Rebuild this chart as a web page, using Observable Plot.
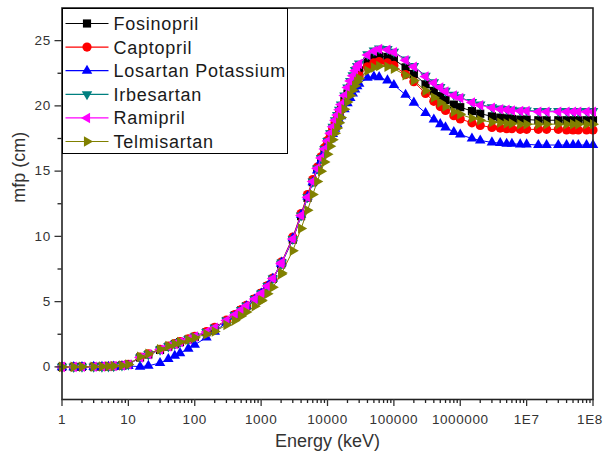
<!DOCTYPE html>
<html>
<head>
<meta charset="utf-8">
<script src="https://cdn.jsdelivr.net/npm/d3@7"></script>
<script src="https://cdn.jsdelivr.net/npm/@observablehq/plot@0.6"></script>
<style>
  body { margin: 0; background: #fff; }
  #wrap { position: relative; width: 604px; height: 461px; font-family: "Liberation Sans", Arial, sans-serif; }
  #wrap svg g[aria-label="x-axis tick label"] text { letter-spacing: 0.6px; }
  #wrap svg g[aria-label="y-axis tick label"] text { letter-spacing: 0.8px; }
  #legend { position: absolute; left: 61.5px; top: 7.5px; background: #fff; border: 1px solid #000; box-sizing: border-box; }
  #legend text { font-family: "Liberation Sans", Arial, sans-serif; font-size: 18px; letter-spacing: 0.75px; fill: #1a1a1a; }
</style>
</head>
<body>
<div id="wrap"></div>
<script>
// ---------- data ----------
const energies = [1,1.5,2,3,4,5,6,8,10,
  15,20,30,40,50,60,80,100,
  150,200,300,400,500,600,800,1000,
  1022,1250,1500,2000,2044,
  3000,4000,5000,6000,7000,8000,9000,10000,
  11000,12000,13000,14000,15000,16000,
  18000,20000,22000,24000,26000,28000,30000,
  40000,50000,60000,80000,100000,
  150000,200000,300000,400000,500000,600000,800000,1e6,
  1.5e6,2e6,3e6,4e6,5e6,6e6,8e6,1e7,
  1.5e7,2e7,3e7,4e7,5e7,6e7,8e7,1e8];

const seriesNames = ["Fosinopril","Captopril","Losartan Potassium","Irbesartan","Ramipril","Telmisartan"];

const fosinopril = [0.00,0.00,0.01,0.01,0.02,0.04,0.06,0.11,0.18,
  0.72,0.95,1.30,1.55,1.74,1.89,2.10,2.30,
  2.65,2.98,3.52,3.95,4.33,4.66,5.18,5.58,
  5.63,6.18,6.74,7.85,7.95,
  9.75,11.55,12.95,14.15,15.15,15.95,16.65,17.25,
  17.8,18.3,18.75,19.15,19.5,19.8,
  20.4,20.95,21.4,21.8,22.15,22.45,22.7,
  23.4,23.7,23.8,23.75,23.55,
  22.95,22.45,21.65,21.15,20.75,20.45,20.1,19.9,
  19.6,19.4,19.2,19.1,19.05,19.0,18.95,18.95,
  18.9,18.9,18.9,18.9,18.9,18.9,18.9,18.9];

const captopril = [0.00,0.00,0.01,0.01,0.02,0.04,0.06,0.12,0.20,
  0.75,1.00,1.35,1.60,1.78,1.93,2.14,2.34,
  2.70,3.03,3.58,4.00,4.38,4.72,5.22,5.62,
  5.67,6.22,6.80,7.95,8.05,
  9.95,11.75,13.2,14.35,15.3,16.1,16.8,17.35,
  17.85,18.3,18.7,19.05,19.4,19.7,
  20.25,20.7,21.1,21.5,21.8,22.05,22.3,
  23.0,23.3,23.4,23.3,23.1,
  22.4,21.85,20.95,20.35,19.95,19.65,19.25,19.0,
  18.7,18.5,18.35,18.3,18.25,18.25,18.2,18.2,
  18.2,18.2,18.2,18.15,18.15,18.15,18.15,18.15];

const losartan = [-0.02,-0.02,-0.01,0.00,0.00,0.01,0.02,0.04,0.07,
  0.02,0.08,0.30,0.60,0.85,1.05,1.40,1.70,
  2.25,2.70,3.40,3.88,4.30,4.65,5.15,5.57,
  5.62,6.17,6.75,7.90,8.00,
  9.85,11.65,13.05,14.15,15.05,15.8,16.45,17.0,
  17.45,17.85,18.25,18.6,18.9,19.2,
  19.75,20.2,20.6,20.95,21.25,21.5,21.7,
  22.15,22.25,22.2,21.95,21.6,
  20.85,20.25,19.45,18.95,18.6,18.35,18.0,17.8,
  17.5,17.35,17.2,17.15,17.1,17.1,17.05,17.05,
  17.0,17.0,17.0,17.0,17.0,17.0,17.0,17.0];

const irbesartan = [0.00,0.00,0.01,0.01,0.02,0.04,0.06,0.11,0.18,
  0.72,0.96,1.32,1.57,1.76,1.91,2.12,2.32,
  2.67,3.00,3.55,3.97,4.35,4.68,5.20,5.60,
  5.65,6.20,6.77,7.90,8.00,
  9.8,11.6,13.0,14.2,15.2,16.0,16.7,17.3,
  17.9,18.4,18.9,19.3,19.7,20.1,
  20.8,21.4,21.9,22.35,22.75,23.05,23.25,
  23.95,24.25,24.4,24.35,24.15,
  23.55,23.05,22.3,21.8,21.45,21.15,20.85,20.65,
  20.3,20.1,19.9,19.8,19.75,19.7,19.65,19.65,
  19.6,19.6,19.6,19.6,19.6,19.6,19.6,19.6];

const ramipril = [0.00,0.00,0.01,0.01,0.02,0.04,0.06,0.11,0.18,
  0.72,0.96,1.32,1.57,1.76,1.91,2.12,2.32,
  2.67,3.00,3.55,3.97,4.35,4.68,5.20,5.60,
  5.65,6.20,6.77,7.90,8.00,
  9.8,11.6,13.0,14.2,15.2,16.0,16.7,17.3,
  17.9,18.4,18.9,19.3,19.7,20.1,
  20.8,21.4,21.9,22.3,22.7,23.0,23.2,
  23.9,24.2,24.35,24.3,24.1,
  23.5,23.0,22.25,21.75,21.4,21.1,20.8,20.6,
  20.25,20.05,19.85,19.75,19.7,19.65,19.6,19.6,
  19.55,19.55,19.55,19.55,19.55,19.55,19.55,19.55];

const telmisartan = [0.00,0.00,0.01,0.01,0.02,0.04,0.06,0.11,0.18,
  0.78,1.00,1.35,1.60,1.76,1.90,2.08,2.24,
  2.50,2.72,3.20,3.55,3.90,4.20,4.65,5.05,
  5.10,5.60,6.10,7.10,7.20,
  8.9,10.6,12.0,13.2,14.2,15.0,15.7,16.3,
  16.9,17.4,17.9,18.3,18.7,19.1,
  19.75,20.3,20.8,21.2,21.55,21.85,22.1,
  22.7,22.95,23.05,23.0,22.85,
  22.35,21.95,21.15,20.65,20.25,19.95,19.55,19.35,
  19.05,18.9,18.75,18.7,18.65,18.65,18.6,18.6,
  18.6,18.6,18.6,18.6,18.6,18.6,18.6,18.6];

const seriesValues = [fosinopril, captopril, losartan, irbesartan, ramipril, telmisartan];

const xMajorTicks = [1,10,100,1000,10000,100000,1000000,1e7,1e8];
const xTickLabels = ["1","10","100","1000","10000","100000","1000000","1E7","1E8"];
const yMajorTicks = [0,5,10,15,20,25];
const yMinorTicks = [2.5,7.5,12.5,17.5,22.5];

// ---------- styles ----------
const seriesColors = ["#000000","#ff0000","#0000ff","#008080","#ff00ff","#808000"];
const seriesSymbols = ["square","circle","triangle","triangle","triangle","triangle"];
const seriesRotate = [0,0,0,180,-90,90];
const seriesR = [4.6,4.6,3.9,3.9,3.9,3.9];

// ---------- build ----------
const data = [];
seriesNames.forEach((name, i) => {
  energies.forEach((e, j) => data.push({series: name, energy: e, mfp: seriesValues[i][j]}));
});

const xMinorTicks = [];
for (let k = 0; k < 8; k++) for (let m = 2; m <= 9; m++) xMinorTicks.push(m * Math.pow(10, k));

const marks = [];
seriesNames.forEach((name, i) => {
  const rows = data.filter(d => d.series === name);
  marks.push(Plot.line(rows, {x: "energy", y: "mfp", stroke: "series", strokeWidth: 1}));
  marks.push(Plot.dot(rows, {x: "energy", y: "mfp", fill: "series", stroke: "none",
    symbol: seriesSymbols[i], r: seriesR[i], rotate: seriesRotate[i]}));
});

marks.push(
  Plot.frame({stroke: "#222", strokeWidth: 1.6}),
  Plot.axisX({ticks: xMinorTicks, tickSize: 4, strokeWidth: 1.3, tickFormat: () => "", label: null}),
  Plot.axisX({ticks: xMajorTicks, tickSize: 7, tickPadding: 8, strokeWidth: 1.3,
    tickFormat: d => xTickLabels[xMajorTicks.indexOf(d)], label: null, fontSize: 13.5, color: "#333"}),
  Plot.axisY({ticks: yMinorTicks, tickSize: 4, strokeWidth: 1.3, tickFormat: () => "", label: null}),
  Plot.axisY({ticks: yMajorTicks, tickSize: 7, tickPadding: 4, strokeWidth: 1.3, label: null, fontSize: 13.5, color: "#333"}),
  Plot.text(["Energy (keV)"], {frameAnchor: "bottom", dy: 47, fontSize: 18, fill: "#333", text: d => d}),
  Plot.text(["mfp (cm)"], {frameAnchor: "left", dx: -43, dy: -1, rotate: -90, fontSize: 18, fill: "#333", text: d => d})
);

const chart = Plot.plot({
  width: 604,
  height: 461,
  marginLeft: 61.5,
  marginRight: 11.5,
  marginTop: 7.5,
  marginBottom: 62,
  style: {fontFamily: "'Liberation Sans', Arial, sans-serif", background: "#fff", color: "#222", overflow: "visible"},
  x: {type: "log", domain: [1, 1e8]},
  y: {domain: [-2.5, 27.5]},
  color: {domain: seriesNames, range: seriesColors},
  marks
});

const wrap = document.getElementById("wrap");
wrap.appendChild(chart);

// nudge last x tick label so it stays inside the window (as in the reference)
const xLabels = chart.querySelectorAll('g[aria-label="x-axis tick label"] text');
if (xLabels.length) xLabels[xLabels.length - 1].setAttribute("dx", "-3");

// ---------- legend (inside plot box, top-left) ----------
const legW = 226, legH = 146, rowH = 23.6;
const leg = d3.select(wrap).append("div").attr("id", "legend")
  .style("width", legW + "px").style("height", legH + "px");
const lsvg = leg.append("svg").attr("width", legW - 2).attr("height", legH - 2)
  .style("position", "absolute").style("left", "0px").style("top", "0px");
const symMap = {square: d3.symbolSquare, circle: d3.symbolCircle, triangle: d3.symbolTriangle};
seriesNames.forEach((name, i) => {
  const cy = 14.5 + i * rowH;
  const g = lsvg.append("g");
  g.append("line").attr("x1", 2.5).attr("x2", 45.5).attr("y1", cy).attr("y2", cy)
    .attr("stroke", seriesColors[i]).attr("stroke-width", 1.2);
  const r = seriesR[i];
  g.append("path")
    .attr("d", d3.symbol(symMap[seriesSymbols[i]], Math.PI * r * r)())
    .attr("transform", `translate(24,${cy}) rotate(${seriesRotate[i]})`)
    .attr("fill", seriesColors[i]);
  g.append("text").attr("x", 50.5).attr("y", cy).attr("dy", "0.36em").text(name);
});
</script>
</body>
</html>
